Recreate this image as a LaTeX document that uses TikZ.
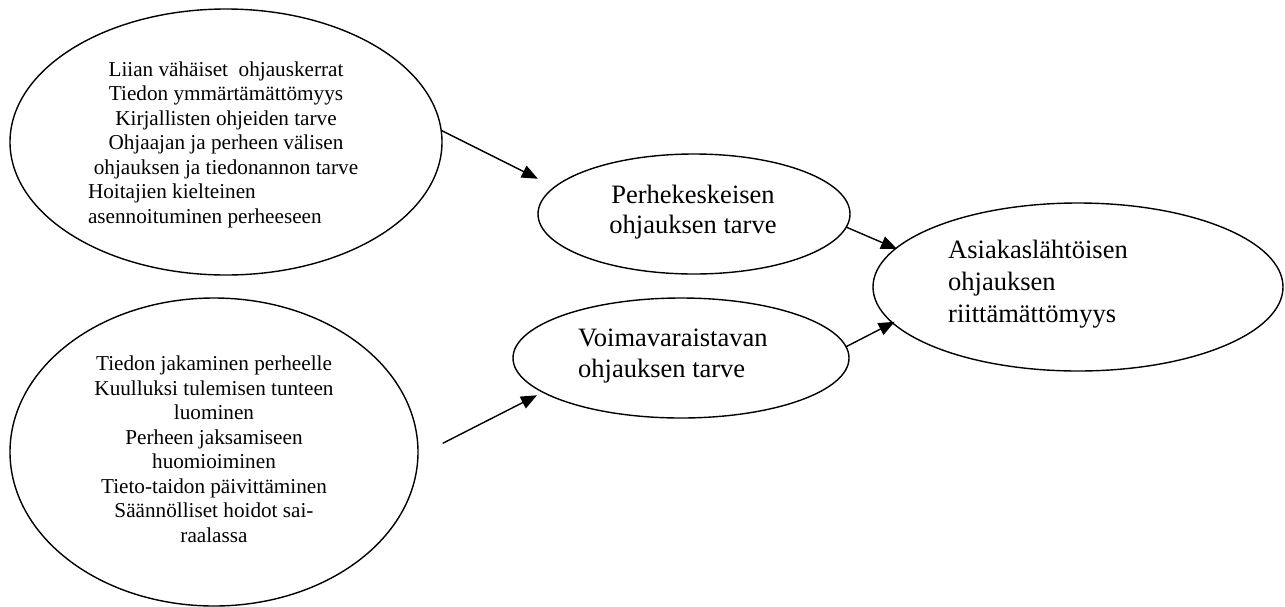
\documentclass[tikz,border=0pt]{standalone}
\usepackage{fontspec}
\setmainfont{Liberation Serif}
\usetikzlibrary{shapes.geometric,arrows.meta}
\begin{document}
\begin{tikzpicture}[x=1pt,y=-1pt,
  oval/.style={draw,ellipse,line width=1.4pt,inner sep=0pt},
  small/.style={font=\fontsize{21.2pt}{24.5pt}\selectfont,inner sep=0pt},
  big/.style={font=\fontsize{26.5pt}{31pt}\selectfont,inner sep=0pt},
  arr/.style={line width=1.4pt,-{Triangle[length=16pt,width=13pt]}}]
\useasboundingbox (0,0) rectangle (1285,606);
% ellipses
\node[oval,minimum width=432pt,minimum height=266pt] (e1) at (226,142) {};
\node[oval,minimum width=408pt,minimum height=308pt] (e2) at (214,452) {};
\node[oval,minimum width=312pt,minimum height=120pt] (p) at (694,214) {};
\node[oval,minimum width=336pt,minimum height=120pt] (v) at (681,358) {};
\node[oval,minimum width=410pt,minimum height=168pt] (a) at (1078,287) {};
% texts
\node[small,align=center] (t1) at (226,144.5) {Liian vähäiset\ \ ohjauskerrat\\
Tiedon ymmärtämättömyys\\
Kirjallisten ohjeiden tarve\\
Ohjaajan ja perheen välisen\\
ohjauksen ja tiedonannon tarve\\
\makebox[276pt][l]{Hoitajien kielteinen}\\
\makebox[276pt][l]{asennoituminen perheeseen}};
\node[small,align=center] (t2) at (214,449.3) {Tiedon jakaminen perheelle\\
Kuulluksi tulemisen tunteen\\
luominen\\
Perheen jaksamiseen\\
huomioiminen\\
Tieto-taidon päivittäminen\\
Säännölliset hoidot sai-\\
raalassa};
\node[big,align=center,font=\fontsize{26.5pt}{30pt}\selectfont] (tp) at (693,212) {Perhekeskeisen\\ohjauksen tarve};
\node[big,align=left,anchor=west] (tv) at (578,356.4) {Voimavaraistavan\\ohjauksen tarve};
\node[big,align=left,anchor=west,font=\fontsize{26.5pt}{32pt}\selectfont] (ta) at (948,283.9) {Asiakaslähtöisen\\ohjauksen\\riittämättömyys};
% connectors
\draw[arr,shorten >=18pt] (e1.3) -- (p.169);
\draw[arr,shorten <=27pt,shorten >=6pt] (e2.-1) -- (v.194);
\draw[arr,shorten <=-1pt,shorten >=-2pt] (p.-5) -- (a.168);
\draw[arr,shorten <=-1pt,shorten >=-3pt] (v.4) -- (a.191);
\end{tikzpicture}
\end{document}
